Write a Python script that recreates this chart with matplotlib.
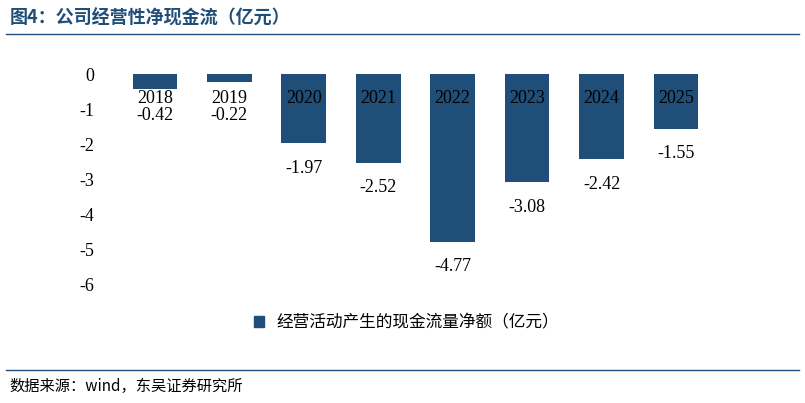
import matplotlib
matplotlib.use("Agg")
import matplotlib.pyplot as plt
from matplotlib.lines import Line2D
from matplotlib.patches import Patch

years = ["2018","2019","2020","2021","2022","2023","2024","2025"]
values = [-0.42,-0.22,-1.97,-2.52,-4.77,-3.08,-2.42,-1.55]
color = "#1F4E79"
cjk = ["Noto Sans CJK SC","DejaVu Sans"]
serif = ["Liberation Serif","Noto Sans CJK SC"]

fig = plt.figure(figsize=(8.05,4.03), dpi=100)
ax = fig.add_axes([0.124,0.293,0.762,0.523])
x = range(len(years))
ax.bar(x, values, width=0.6, color=color)
ax.set_ylim(-6,0)
ax.set_xlim(-0.74,7.5)
ax.set_yticks(range(-6,1))
ax.set_yticklabels([str(v) for v in range(-6,1)], fontsize=13, family=serif)
ax.tick_params(axis='y', length=0, pad=4)
ax.set_xticks([])
for s in ["top","right","bottom","left"]:
    ax.spines[s].set_visible(False)
for i,(y,v) in enumerate(zip(years,values)):
    ax.text(i, -0.7, y, ha='center', va='center', fontsize=13, family=serif)
    if v > -0.8:
        ax.text(i, -1.18, f"{v:.2f}", ha='center', va='center', fontsize=13, family=serif)
    else:
        ax.annotate(f"{v:.2f}", (i, v), xytext=(0,-25), textcoords='offset pixels',
                    ha='center', va='center', fontsize=13, family=serif)
ax.legend(handles=[Patch(color=color)], labels=["经营活动产生的现金流量净额（亿元）"],
          loc='center', bbox_to_anchor=(0.5,-0.18), frameon=False,
          prop={'family':cjk,'size':12}, handlelength=0.6, handleheight=0.6)

fig.text(0.012,0.955,"图4：公司经营性净现金流（亿元）", fontsize=13, fontweight='bold',
         color="#1F4E79", family=cjk, va='center')
fig.add_artist(Line2D([0.008,0.992],[0.915,0.915], color="#1F4E79", lw=1))
fig.add_artist(Line2D([0.008,0.992],[0.082,0.082], color="#1F4E79", lw=1))
fig.text(0.012,0.042,"数据来源：wind，东吴证券研究所", fontsize=11, family=cjk, va='center')
fig.savefig("out.png", dpi=100)
